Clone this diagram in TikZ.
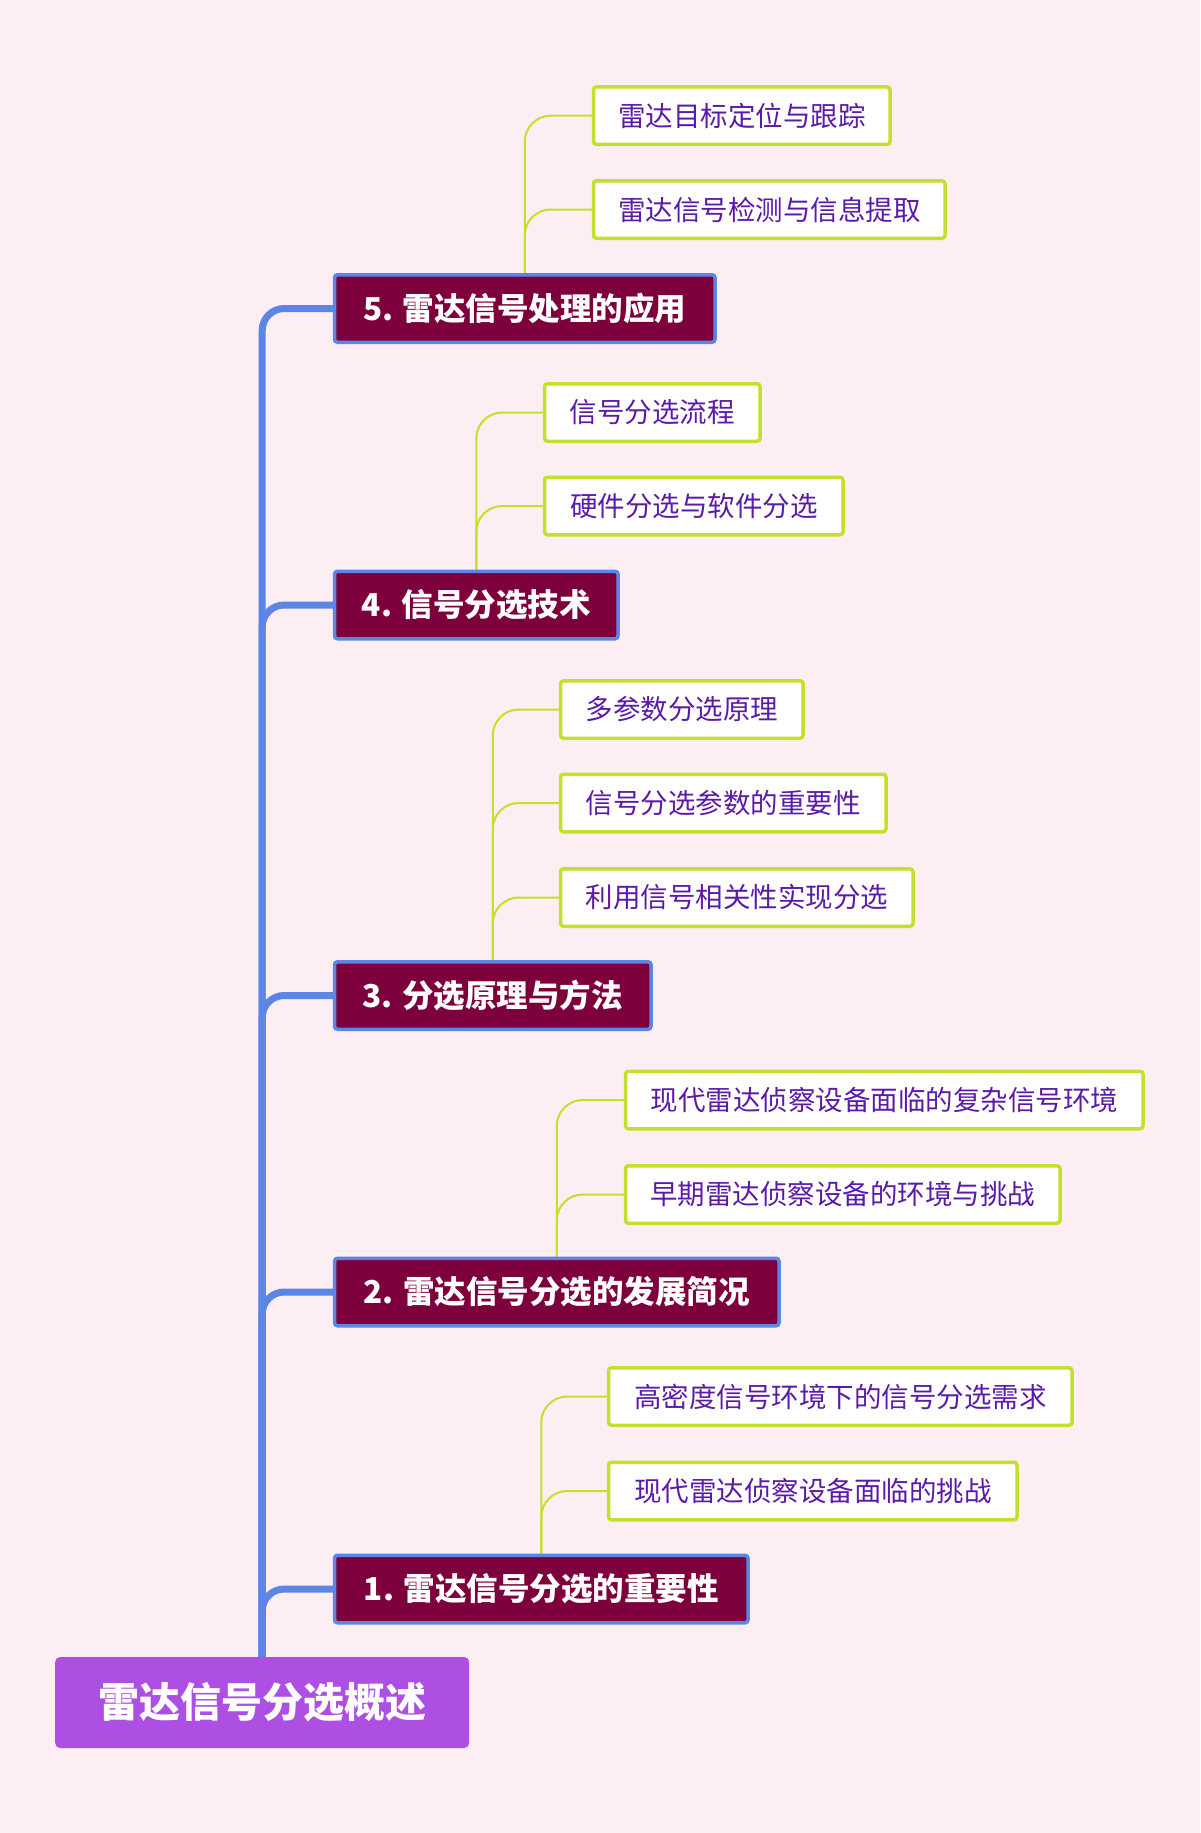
\documentclass[tikz,border=0pt]{standalone}
\usepackage{fontspec}
\setmainfont{Noto Sans CJK SC}
\usetikzlibrary{backgrounds}
\definecolor{bgpink}{HTML}{FDEEF4}
\definecolor{trunkblue}{HTML}{5B86E5}
\definecolor{maroon}{HTML}{7D003C}
\definecolor{rootpurple}{HTML}{AD4FE2}
\definecolor{leafline}{HTML}{C3E02C}
\definecolor{leaftext}{HTML}{5B1BA8}
\begin{document}
\begin{tikzpicture}[x=1pt,y=-1pt,
  rootbox/.style={fill=rootpurple, text=white, font=\fontsize{41}{46}\selectfont\bfseries,
    minimum height=91pt, anchor=west, rounded corners=5pt, inner sep=0pt},
  lone/.style={draw=trunkblue, line width=3.5pt, fill=maroon, text=white,
    font=\fontsize{31.5}{36}\selectfont\bfseries, minimum height=67.5pt, anchor=west,
    rounded corners=3pt, inner sep=0pt},
  ltwo/.style={draw=leafline, line width=3.5pt, fill=white, text=leaftext,
    font=\fontsize{27.5}{32}\selectfont, minimum height=57.5pt, anchor=west,
    rounded corners=3pt, inner sep=0pt},
  trunk/.style={draw=trunkblue, line width=7pt, rounded corners=22pt},
  twig/.style={draw=leafline, line width=2pt, rounded corners=26pt}]
\useasboundingbox (0,0) rectangle (1200,1833);

% root
\node[rootbox, minimum width=414pt] (root) at (55,1702.5) {雷达信号分选概述};

% level 1
\node[lone, minimum width=380.5pt] (n5) at (332.75,308.5) {5. 雷达信号处理的应用};
\node[lone, minimum width=283.5pt] (n4) at (332.75,605) {4. 信号分选技术};
\node[lone, minimum width=316.5pt] (n3) at (332.75,995.5) {3. 分选原理与方法};
\node[lone, minimum width=444.5pt] (n2) at (332.75,1292) {2. 雷达信号分选的发展简况};
\node[lone, minimum width=413.5pt] (n1) at (332.75,1589) {1. 雷达信号分选的重要性};

% level 2
\node[ltwo, minimum width=296.5pt] (a5) at (591.75,115.7) {雷达目标定位与跟踪};
\node[ltwo, minimum width=351.5pt] (b5) at (591.75,209.5) {雷达信号检测与信息提取};
\node[ltwo, minimum width=215.5pt] (a4) at (542.75,412.5) {信号分选流程};
\node[ltwo, minimum width=298.5pt] (b4) at (542.75,506) {硬件分选与软件分选};
\node[ltwo, minimum width=242.5pt] (a3) at (558.75,709.5) {多参数分选原理};
\node[ltwo, minimum width=325.5pt] (b3) at (558.75,803) {信号分选参数的重要性};
\node[ltwo, minimum width=352.5pt] (c3) at (558.75,897.5) {利用信号相关性实现分选};
\node[ltwo, minimum width=517.5pt] (a2) at (623.75,1100) {现代雷达侦察设备面临的复杂信号环境};
\node[ltwo, minimum width=434.5pt] (b2) at (623.75,1194.5) {早期雷达侦察设备的环境与挑战};
\node[ltwo, minimum width=463.5pt] (a1) at (606.75,1396.5) {高密度信号环境下的信号分选需求};
\node[ltwo, minimum width=408.5pt] (b1) at (606.75,1491) {现代雷达侦察设备面临的挑战};

\begin{scope}[on background layer]
  \fill[bgpink] (0,0) rectangle (1200,1833);
  \foreach \n in {n1,n2,n3,n4,n5}
    \draw[trunk] (root.north) |- (\n.west);
  \draw[twig] (n5.north) |- (a5.west);
  \draw[twig] (n5.north) |- (b5.west);
  \draw[twig] (n4.north) |- (a4.west);
  \draw[twig] (n4.north) |- (b4.west);
  \draw[twig] (n3.north) |- (a3.west);
  \draw[twig] (n3.north) |- (b3.west);
  \draw[twig] (n3.north) |- (c3.west);
  \draw[twig] (n2.north) |- (a2.west);
  \draw[twig] (n2.north) |- (b2.west);
  \draw[twig] (n1.north) |- (a1.west);
  \draw[twig] (n1.north) |- (b1.west);
\end{scope}
\end{tikzpicture}
\end{document}
